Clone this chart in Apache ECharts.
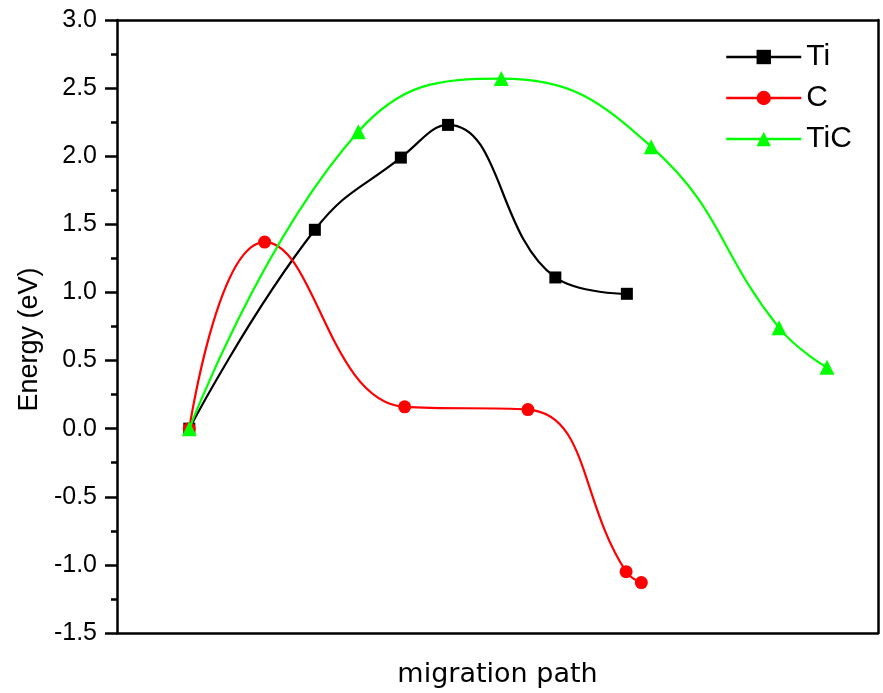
<!DOCTYPE html>
<html><head><meta charset="utf-8">
<script src="https://cdn.jsdelivr.net/npm/echarts@6/dist/echarts.min.js"></script>
<style>html,body{margin:0;padding:0;background:#fff}#c{width:883px;height:693px}</style>
</head><body><div id="c"></div>
<script>
var seriesNames = ['Ti', 'C', 'TiC'];
var tiX = [9.5, 26.0, 37.3, 43.5, 57.6, 67.0];
var tiY = [0.0, 1.46, 1.99, 2.23, 1.11, 0.99];
var cX = [9.5, 19.4, 37.8, 54.0, 66.9, 68.9];
var cY = [0.0, 1.37, 0.16, 0.14, -1.05, -1.13];
var ticX = [9.5, 31.7, 50.5, 70.2, 87.0, 93.3];
var ticY = [0.0, 2.18, 2.57, 2.07, 0.74, 0.45];
var yTicks = [-1.5, -1.0, -0.5, 0.0, 0.5, 1.0, 1.5, 2.0, 2.5, 3.0];

function pairs(xs, ys) { return xs.map(function (x, i) { return [x, ys[i]]; }); }

var font = 'Liberation Sans, Arial, sans-serif';
var frameLine = { show: true, onZero: false, lineStyle: { color: '#000', width: 2.5 } };
var chart = echarts.init(document.getElementById('c'));
chart.setOption({
  animation: false,
  grid: { left: 117, right: 5, top: 20, bottom: 58 },
  legend: {
    data: seriesNames,
    left: 720, top: 37, orient: 'vertical',
    itemWidth: 75, itemHeight: 18, itemGap: 11,
    lineStyle: { width: 2.5 },
    textStyle: { fontFamily: font, fontSize: 30, color: '#000' }
  },
  xAxis: [{
    type: 'value', min: 0, max: 100, position: 'bottom',
    name: 'migration path', nameLocation: 'middle', nameGap: 28,
    nameTextStyle: { fontFamily: 'DejaVu Sans, sans-serif', fontSize: 27, color: '#000' },
    axisLine: frameLine,
    axisTick: { show: false }, axisLabel: { show: false }, splitLine: { show: false }
  }, {
    type: 'value', min: 0, max: 100, position: 'top',
    axisLine: frameLine,
    axisTick: { show: false }, axisLabel: { show: false }, splitLine: { show: false }
  }],
  yAxis: [{
    type: 'value', min: yTicks[0], max: yTicks[yTicks.length - 1], interval: 0.5, position: 'left',
    name: 'Energy (eV)', nameLocation: 'middle', nameGap: 68, nameRotate: 90,
    nameTextStyle: { fontFamily: font, fontSize: 27, color: '#000', padding: [0, 26, 0, 0] },
    axisLine: frameLine,
    axisTick: { show: true, inside: false, length: 12, lineStyle: { color: '#000', width: 2.5 } },
    minorTick: { show: true, splitNumber: 2, length: 6, lineStyle: { color: '#000', width: 2.5 } },
    axisLabel: { fontFamily: font, fontSize: 25, color: '#000', margin: 20,
      formatter: function (v) { return v.toFixed(1); } },
    splitLine: { show: false }
  }, {
    type: 'value', min: yTicks[0], max: yTicks[yTicks.length - 1], interval: 0.5, position: 'right',
    axisLine: frameLine,
    axisTick: { show: false }, axisLabel: { show: false }, splitLine: { show: false }
  }],
  series: [
    { name: 'Ti', type: 'line', smooth: 0.45, data: pairs(tiX, tiY), symbol: 'rect', symbolSize: 12,
      itemStyle: { color: '#000' }, lineStyle: { color: '#000', width: 2.2 }, z: 3 },
    { name: 'C', type: 'line', smooth: 0.45, data: pairs(cX, cY), symbol: 'circle', symbolSize: 13,
      itemStyle: { color: '#ff0000' }, lineStyle: { color: '#ff0000', width: 2.2 }, z: 4 },
    { name: 'TiC', type: 'line', smooth: 0.45, data: pairs(ticX, ticY), symbol: 'triangle', symbolSize: 15,
      itemStyle: { color: '#00ff00' }, lineStyle: { color: '#00ff00', width: 2.2 }, z: 5 }
  ]
});
</script></body></html>
